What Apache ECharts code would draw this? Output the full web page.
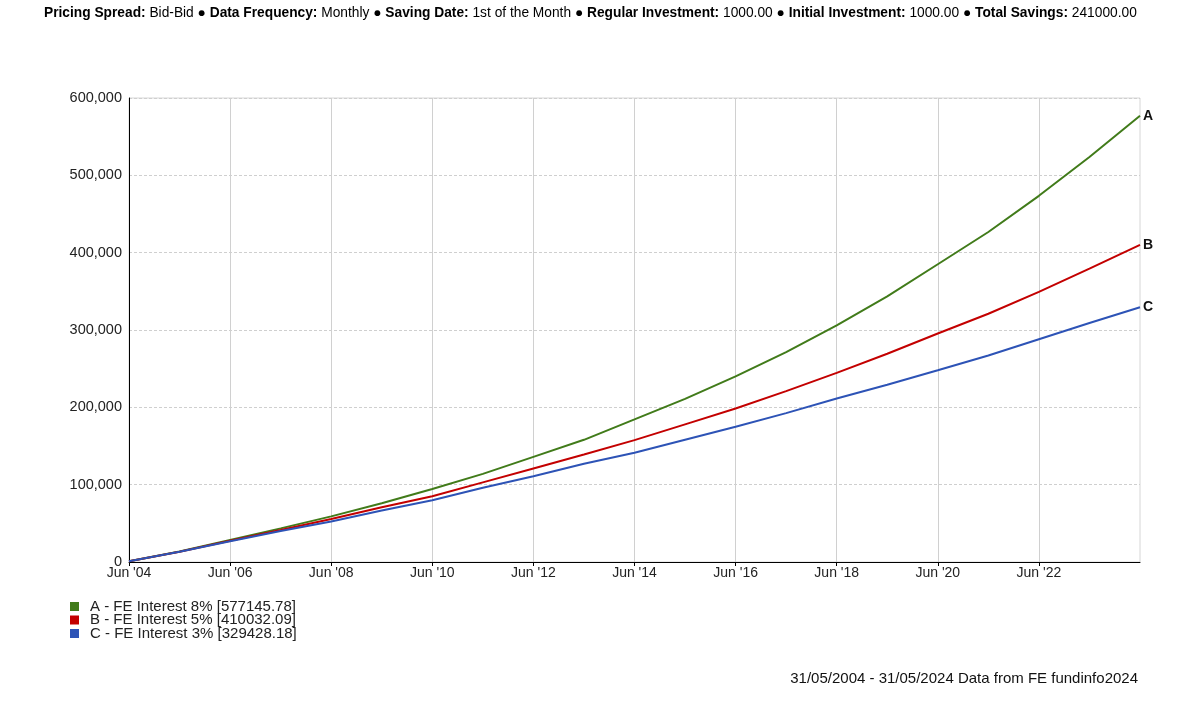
<!DOCTYPE html>
<html>
<head>
<meta charset="utf-8">
<script src="https://cdn.jsdelivr.net/npm/echarts@6/dist/echarts.min.js"></script>
<style>
html, body { margin: 0; padding: 0; background: #fff; }
#main { width: 1204px; height: 711px; }
</style>
</head>
<body>
<div id="main"></div>
<script>
// one point per June plus the last valuation date
var dates = ['2004-05-31', '2005-06-01', '2006-06-01', '2007-06-01', '2008-06-01', '2009-06-01',
  '2010-06-01', '2011-06-01', '2012-06-01', '2013-06-01', '2014-06-01', '2015-06-01',
  '2016-06-01', '2017-06-01', '2018-06-01', '2019-06-01', '2020-06-01', '2021-06-01',
  '2022-06-01', '2023-06-01', '2024-05-31'];
var interest8 = [1000, 13600, 28500, 43500, 59000, 76000, 94500, 114000, 136000, 158000, 184400,
  211000, 240000, 271500, 306000, 343500, 385000, 426700, 473500, 523700, 577145.78];
var interest5 = [1000, 13350, 27600, 41500, 55500, 70800, 85000, 103000, 121000, 139000, 157600,
  178000, 198500, 221000, 244600, 269300, 295500, 321000, 349200, 379300, 410032.09];
var interest3 = [1000, 13200, 26900, 40200, 52500, 66500, 79800, 96000, 111000, 127000, 141200,
  158000, 174800, 192500, 211500, 229200, 248000, 267100, 288000, 309000, 329428.18];

var tickLabels = ["Jun '04", "Jun '06", "Jun '08", "Jun '10", "Jun '12", "Jun '14",
  "Jun '16", "Jun '18", "Jun '20", "Jun '22"];
var seriesNames = ['A - FE Interest 8% [577145.78]', 'B - FE Interest 5% [410032.09]',
  'C - FE Interest 3% [329428.18]'];
var endTags = ['A', 'B', 'C'];
var colors = ['#417b1a', '#c30000', '#2d53b6'];

// months since Jun 2004
function monthIndex(d) {
  var p = d.split('-');
  return (p[0] - 2004) * 12 + (p[1] - 6) + (p[2] - 1) / 30;
}

function pairs(vals) {
  return vals.map(function (v, i) { return [monthIndex(dates[i]), v]; });
}

// tick positions, one every two years
var tickMonths = tickLabels.map(function (t, i) { return i * 24; });

var myChart = echarts.init(document.getElementById('main'));
var font = 'Arial, "Liberation Sans", sans-serif';

myChart.setOption({
  animation: false,
  textStyle: { fontFamily: font },
  color: colors,
  grid: { left: 129, right: 64, top: 98, bottom: 149, show: true, borderColor: '#d6d6d6', borderWidth: 1 },
  graphic: [
    {
      type: 'text', left: 44, top: 6,
      style: {
        text: '{b|Pricing Spread:} Bid-Bid \u25CF {b|Data Frequency:} Monthly \u25CF {b|Saving Date:} 1st of the Month \u25CF {b|Regular Investment:} 1000.00 \u25CF {b|Initial Investment:} 1000.00 \u25CF {b|Total Savings:} 241000.00',
        font: '13.75px ' + font, fill: '#000',
        rich: { b: { fontWeight: 'bold', fontSize: 13.75, fontFamily: font, fill: '#000' } }
      }
    },
    {
      type: 'text', right: 66, top: 671,
      style: { text: '31/05/2004 - 31/05/2024 Data from FE fundinfo2024', font: '15px ' + font, fill: '#111' }
    }
  ],
  legend: {
    orient: 'vertical', left: 70, top: 599, padding: 0,
    icon: 'rect', itemWidth: 9, itemHeight: 9, itemGap: -1.5,
    textStyle: { fontSize: 15, color: '#222', lineHeight: 13, padding: [0, 0, 0, 6] },
    data: seriesNames
  },
  xAxis: {
    type: 'value', min: 0, max: 240, interval: 24,
    axisLine: { lineStyle: { color: '#000' } },
    axisTick: { length: 4, lineStyle: { color: '#000' }, customValues: tickMonths },
    axisLabel: {
      color: '#222', fontSize: 14, margin: 4,
      customValues: tickMonths,
      formatter: function (v) { return tickLabels[v / 24] || ''; }
    },
    splitLine: { lineStyle: { color: '#d0d0d0', width: 1 } }
  },
  yAxis: {
    type: 'value', min: 0, max: 600000, interval: 100000,
    axisLine: { show: true, lineStyle: { color: '#000' } },
    axisTick: { show: false },
    axisLabel: {
      color: '#222', fontSize: 14.5, margin: 7,
      formatter: function (v) { return v.toLocaleString('en-US'); }
    },
    splitLine: { lineStyle: { color: '#cfcfcf', type: [3, 2] } }
  },
  series: [interest8, interest5, interest3].map(function (vals, i) {
    return {
      name: seriesNames[i], type: 'line', data: pairs(vals),
      showSymbol: false, lineStyle: { width: 2 },
      endLabel: {
        show: true, distance: 3, color: '#111', fontWeight: 'bold', fontSize: 14,
        formatter: endTags[i]
      }
    };
  })
});
</script>
</body>
</html>
